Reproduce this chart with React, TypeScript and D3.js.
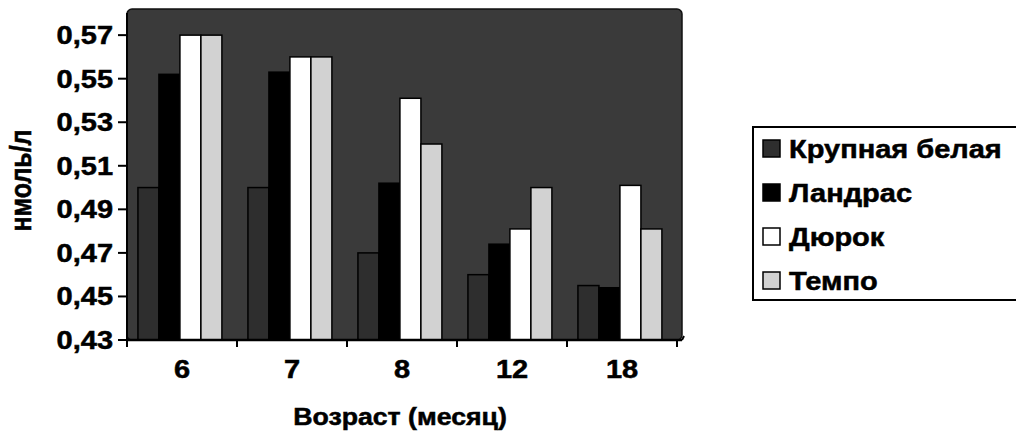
import * as React from "react";
import { scaleBand, scaleLinear } from "d3";

// values (nmol/l)
const ages = ["6", "7", "8", "12", "18"];
const seriesNames = ["Крупная белая", "Ландрас", "Дюрок", "Темпо"];
const krupnayaBelaya = [0.5, 0.5, 0.47, 0.46, 0.455];
const landras = [0.552, 0.553, 0.502, 0.474, 0.454];
const durok = [0.57, 0.56, 0.541, 0.481, 0.501];
const tempo = [0.57, 0.56, 0.52, 0.5, 0.481];
const yTicks = [0.43, 0.45, 0.47, 0.49, 0.51, 0.53, 0.55, 0.57];

const seriesValues = [krupnayaBelaya, landras, durok, tempo];
const seriesFill = ["#2e2e2e", "#000000", "#ffffff", "#d2d2d2"];

const W = 1016;
const H = 431;
const font = "'Liberation Sans', Arial, sans-serif";
// the scan is a bit wider than it is tall, so text is stretched sideways
const STRETCH = 1.16;

const Label = ({ x, y, size, anchor = "start", children }: any) => (
  <text
    transform={`translate(${x},${y}) scale(${STRETCH},1)`}
    textAnchor={anchor}
    fontSize={size}
    stroke="#000"
    strokeWidth={0.5}
  >
    {children}
  </text>
);

const App = () => {
  const plot = { left: 127, right: 677, top: 9, bottom: 340 };

  const x = scaleBand<string>()
    .domain(ages)
    .range([plot.left, plot.right])
    .padding(0);
  const xs = scaleBand<string>()
    .domain(seriesNames)
    .range([0, x.bandwidth()])
    .paddingInner(0)
    .paddingOuter(0.62)
    .align(0.42);
  const y = scaleLinear().domain([0.43, 0.582]).range([plot.bottom, plot.top]);

  const boundaries = ages.map(a => x(a) as number).concat([plot.right]);
  const fmt = (v: number) => v.toFixed(2).replace(".", ",");

  return (
    <svg
      width={W}
      height={H}
      style={{ position: "absolute", left: 0, top: 0, background: "#fff" }}
      fontFamily={font}
      fontWeight="bold"
    >
      {/* plot background */}
      <rect
        x={plot.left}
        y={plot.top}
        width={plot.right - plot.left + 5}
        height={plot.bottom - plot.top}
        rx={5}
        fill="#3a3a3a"
        stroke="#111"
        strokeWidth={1.5}
      />

      {/* bars */}
      {ages.map((a, i) => (
        <g key={a} transform={`translate(${x(a)},0)`}>
          {seriesNames.map((s, k) => {
            const v = seriesValues[k][i];
            return (
              <rect
                key={s}
                x={xs(s)}
                y={y(v)}
                width={xs.bandwidth()}
                height={y(0.43) - y(v)}
                fill={seriesFill[k]}
                stroke="#000"
                strokeWidth={1.5}
              />
            );
          })}
        </g>
      ))}

      {/* y axis */}
      <line x1={plot.left} x2={plot.left} y1={plot.top + 4} y2={plot.bottom} stroke="#000" strokeWidth={2} />
      {yTicks.map(t => (
        <g key={t}>
          <line x1={plot.left - 9} x2={plot.left} y1={y(t)} y2={y(t)} stroke="#000" strokeWidth={2} />
          <Label x={plot.left - 14} y={y(t) + 9} size={25} anchor="end">
            {fmt(t)}
          </Label>
        </g>
      ))}
      <text
        transform={`translate(31,${(plot.top + plot.bottom) / 2 + 6}) rotate(-90) scale(1,${STRETCH})`}
        textAnchor="middle"
        fontSize={25}
        stroke="#000"
        strokeWidth={0.5}
      >
        нмоль/л
      </text>

      {/* x axis */}
      <line x1={plot.left} x2={plot.right + 5} y1={plot.bottom} y2={plot.bottom} stroke="#000" strokeWidth={2.5} />
      <line x1={plot.right + 5} x2={plot.right + 7} y1={plot.bottom} y2={plot.bottom - 4} stroke="#000" strokeWidth={2} />
      {boundaries.map((b, i) => (
        <line key={i} x1={b} x2={b} y1={plot.bottom} y2={plot.bottom + 7} stroke="#000" strokeWidth={2} />
      ))}
      {ages.map(a => (
        <Label key={a} x={(x(a) as number) + x.bandwidth() / 2} y={378} size={25} anchor="middle">
          {a}
        </Label>
      ))}
      <Label x={400} y={425} size={23} anchor="middle">
        Возраст (месяц)
      </Label>

      {/* legend */}
      <rect x={753} y={127} width={W - 753 + 4} height={173} fill="#fff" stroke="#000" strokeWidth={2} />
      {seriesNames.map((s, k) => {
        const base = 158 + k * 44;
        return (
          <g key={s}>
            <rect x={763} y={base - 18} width={17} height={17} fill={seriesFill[k]} stroke="#000" strokeWidth={1.5} />
            <Label x={789} y={base} size={25}>
              {s}
            </Label>
          </g>
        );
      })}
    </svg>
  );
};

export default App;
